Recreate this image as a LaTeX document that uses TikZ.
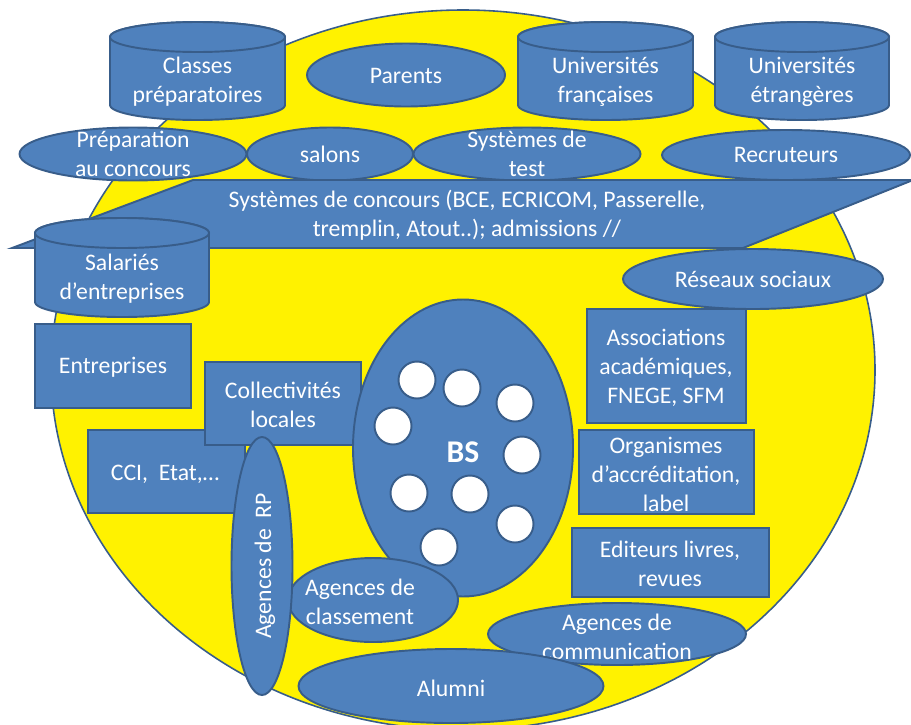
\documentclass[tikz,border=0pt]{standalone}
\usepackage{fontspec}
\setmainfont{Carlito}
\usepackage{tikz}
\usetikzlibrary{shapes}
\usetikzlibrary{calc}

\definecolor{boxblue}{HTML}{4F81BD}
\definecolor{edgeblue}{HTML}{385D8A}
\def\px{0.02cm}

\tikzset{
	blob/.style={fill=boxblue, draw=edgeblue, line width=1.1pt, inner sep=0pt},
	oval/.style={blob, ellipse},
	box/.style={blob, rectangle},
	txt/.style={text=white, align=center, inner sep=0pt, font=\fontsize{13.5pt}{16.5pt}\selectfont},
}

% cylinder: name, left, right, top, bottom, text
\newcommand{\cylbox}[6]{%
	\draw[blob] (#2,#4+15) -- (#2,#5-15)
		arc[start angle=180, end angle=360, x radius={(#3-#2)/2*\px}, y radius=15*\px]
		-- (#3,#4+15)
		arc[start angle=0, end angle=180, x radius={(#3-#2)/2*\px}, y radius=15*\px] -- cycle;
	\draw[blob] ({(#2+#3)/2},#4+15) ellipse [x radius={(#3-#2)/2*\px}, y radius=15*\px];
	\node[txt] (#1) at ({(#2+#3)/2},{(#4+#5)/2+11}) {#6};
}

\begin{document}
\begin{tikzpicture}[x=0.02cm, y=-0.02cm]
	\useasboundingbox (0,0) rectangle (911,724);

	% environment
	\node[ellipse, fill=yellow, draw=edgeblue, line width=0.9pt, inner sep=0pt,
		minimum width=824*\px, minimum height=720*\px] (env) at (463,370) {};

	% top row
	\cylbox{prepa}{110}{285}{22}{120}{Classes\\préparatoires}
	\node[oval, minimum width=198*\px, minimum height=63*\px] (parents) at (406,75) {};
	\node[txt] at (406,76) {Parents};
	\cylbox{univfr}{518}{693}{22}{120}{Universités\\françaises}
	\cylbox{univet}{715}{889}{22}{120}{Universités\\étrangères}

	% second row
	\node[oval, minimum width=227*\px, minimum height=53*\px] (prepconc) at (133,154) {};
	\node[txt] at (prepconc) {Préparation\\au concours};
	\node[oval, minimum width=166*\px, minimum height=53*\px] (salons) at (330,154) {};
	\node[txt] at (salons) {salons};
	\node[oval, minimum width=227*\px, minimum height=53*\px] (tests) at (527,154) {};
	\node[txt] at (tests) {Systèmes de\\test};
	\node[oval, minimum width=248*\px, minimum height=50*\px] (recru) at (786,155) {};
	\node[txt] at (recru) {Recruteurs};

	% banner
	\draw[blob] (193,180) -- (913,180) -- (743,248) -- (12,248) -- cycle;
	\node[txt] (concours) at (467,215) {Systèmes de concours (BCE, ECRICOM, Passerelle,\\tremplin, Atout..); admissions //};

	\cylbox{salaries}{35}{209}{218}{317}{Salariés\\d’entreprises}
	\node[oval, minimum width=260*\px, minimum height=60*\px] (reseaux) at (753,279) {};
	\node[txt] at (reseaux) {Réseaux sociaux};

	% left side
	\node[box, minimum width=156*\px, minimum height=84*\px] (entr) at (113,366) {};
	\node[txt] at (113,367) {Entreprises};
	\node[box, minimum width=157*\px, minimum height=83*\px] (cci) at (166.5,471.5) {};
	\node[txt] at (165,474) {CCI,\ \ Etat,…};
	\node[box, minimum width=156*\px, minimum height=83*\px] (collect) at (283,403.5) {};
	\node[txt] at (283,405) {Collectivités\\locales};

	% BS
	\node[oval, minimum width=220*\px, minimum height=297*\px] (bs) at (463,448) {};
	\foreach \cx/\cy in {417/380, 462/388, 515/403, 393/426, 522/455, 409/493, 470/494, 515/524, 439/547} {
		\draw[fill=white, draw=edgeblue, line width=1.1pt] (\cx,\cy) circle [radius=18.5*\px];
	}
	\node[txt, font=\fontsize{18pt}{20pt}\selectfont\bfseries] at (463,452) {BS};

	% right side
	\node[box, minimum width=159*\px, minimum height=114*\px] (assoc) at (666.5,366) {};
	\node[txt] at (666,368) {Associations\\académiques,\\FNEGE, SFM};
	\node[box, minimum width=175*\px, minimum height=84*\px] (accred) at (666.5,472) {};
	\node[txt] at (666,474) {Organismes\\d’accréditation,\\label};
	\node[box, minimum width=197*\px, minimum height=69*\px] (edit) at (670.5,562.5) {};
	\node[txt] at (670,564) {Editeurs livres,\\revues};

	% bottom
	\node[oval, minimum width=170*\px, minimum height=84*\px] (classement) at (373,600) {};
	\node[txt] at (360,602) {Agences de\\classement};
	\node[oval, minimum width=61*\px, minimum height=258*\px] (rp) at (262,566) {};
	\node[txt, rotate=90] at (265,566) {Agences de\ \ RP};
	\node[oval, minimum width=258*\px, minimum height=62*\px] (comm) at (617,634) {};
	\node[txt] at (617,637) {Agences de\\communication};
	\node[oval, minimum width=305*\px, minimum height=74*\px] (alumni) at (451,686) {};
	\node[txt] at (451,688) {Alumni};
\end{tikzpicture}
\end{document}
